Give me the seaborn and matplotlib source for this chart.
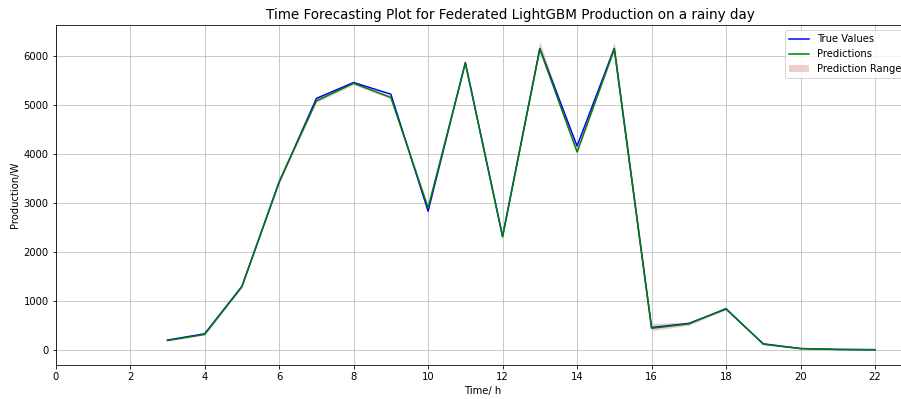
import numpy as np
import pandas as pd
import matplotlib
matplotlib.use('Agg')
import matplotlib.pyplot as plt
import seaborn as sns

# hourly values
hours = [3, 4, 5, 6, 7, 8, 9, 10, 11, 12, 13, 14, 15, 16, 17, 18, 19, 20, 21, 22]
true_values = [199, 328, 1298, 3424, 5140, 5467, 5228, 2835, 5877, 2323,
               6164, 4168, 6164, 457, 540, 834, 123, 27, 7, 0]
predictions = [190, 315, 1290, 3440, 5090, 5450, 5160, 2904, 5860, 2310,
               6150, 4046, 6150, 440, 530, 845, 115, 25, 10, 5]
pred_lower = [180, 300, 1270, 3400, 5060, 5420, 5130, 2860, 5830, 2290,
              6120, 4000, 6120, 390, 500, 820, 100, 15, 0, 0]
pred_upper = [205, 335, 1320, 3480, 5180, 5480, 5200, 2950, 5900, 2340,
              6310, 4100, 6300, 540, 570, 860, 130, 35, 15, 10]

df = pd.DataFrame({'hour': hours, 'true': true_values, 'pred': predictions,
                   'low': pred_lower, 'high': pred_upper})

fig = plt.figure(figsize=(901 / 72, 399 / 72), dpi=72)
ax = fig.add_axes([0.0618, 0.0845, 0.9486, 0.852])

sns.lineplot(x='hour', y='true', data=df, color='blue', label='True Values', ax=ax)
sns.lineplot(x='hour', y='pred', data=df, color='green', label='Predictions', ax=ax)
ax.fill_between(df['hour'], df['low'], df['high'], color='indianred', alpha=0.3,
                label='Prediction Range', linewidth=0)

ax.set_xlim(0, 22.95)
ax.set_ylim(-316, 6636)
ax.set_xticks(range(0, 23, 2))
ax.grid(True, color='#bdbdbd')
ax.set_title('Time Forecasting Plot for Federated LightGBM Production on a rainy day',
             fontsize=13.5, x=0.5315)
ax.set_xlabel('Time/ h')
ax.set_ylabel('Production/W')
ax.legend(loc='upper right')

fig.savefig('out.png', dpi=72)
